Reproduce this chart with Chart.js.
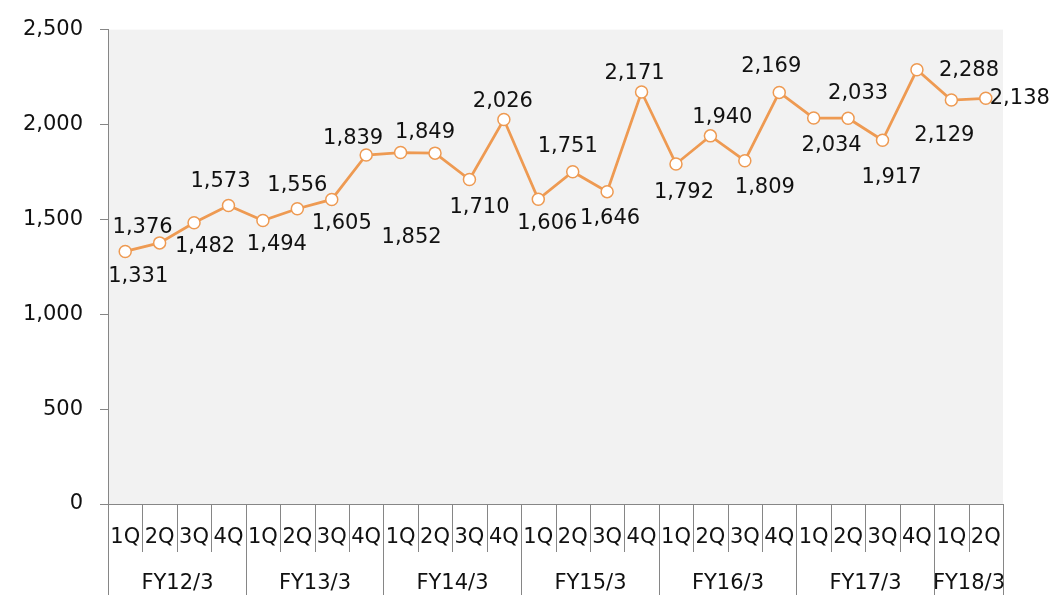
<!DOCTYPE html>
<html>
<head>
<meta charset="utf-8">
<script src="https://cdn.jsdelivr.net/npm/chart.js@4/dist/chart.umd.min.js"></script>
<style>
  html, body { margin: 0; padding: 0; background: #fff; }
  #wrap { width: 1052px; height: 595px; }
</style>
</head>
<body>
<div id="wrap"><canvas id="chart" width="1052" height="595"></canvas></div>
<script>
const quarters = [
  "1Q", "2Q", "3Q", "4Q", "1Q", "2Q", "3Q", "4Q", "1Q", "2Q", "3Q", "4Q", "1Q",
  "2Q", "3Q", "4Q", "1Q", "2Q", "3Q", "4Q", "1Q", "2Q", "3Q", "4Q", "1Q", "2Q",
];
const fiscalYears = ["FY12/3", "FY13/3", "FY14/3", "FY15/3", "FY16/3", "FY17/3", "FY18/3"];
const yearSpans = [4, 4, 4, 4, 4, 4, 2];
const values = [
  1331, 1376, 1482, 1573, 1494, 1556, 1605, 1839, 1852, 1849, 1710, 2026, 1606,
  1751, 1646, 2171, 1792, 1940, 1809, 2169, 2034, 2033, 1917, 2288, 2129, 2138,
];
const yTicks = [0, 500, 1000, 1500, 2000, 2500];

// where each value label sits relative to its point (px)
const labelOffsets = [
  [13, 25], [-17, -15], [11, 24], [-8, -24], [14, 24], [0, -23], [10, 24],
  [-13, -16], [11, 85], [-10, -21], [10, 28], [-1, -18], [9, 24], [-5, -25],
  [3, 27], [-7, -18], [8, 29], [12, -18], [20, 27], [-8, -26], [18, 28],
  [10, -25], [9, 37], [52, 1], [-7, 36], [34, 0],
];

const FONT = '"DejaVu Sans", Verdana, sans-serif';
const AXIS = "#868686";
const ORANGE = "#EE9A52";

const fmt = (v) => v.toLocaleString("en-US");

const plotBg = {
  id: "plotBg",
  beforeDraw(chart) {
    const { ctx, chartArea: a } = chart;
    ctx.save();
    ctx.fillStyle = "#f2f2f2";
    ctx.fillRect(a.left, a.top, a.right - a.left, a.bottom - a.top);
    ctx.restore();
  },
};

const valueLabels = {
  id: "valueLabels",
  afterDatasetsDraw(chart) {
    const { ctx } = chart;
    const meta = chart.getDatasetMeta(0);
    ctx.save();
    ctx.font = "21px " + FONT;
    ctx.fillStyle = "#111";
    ctx.textAlign = "center";
    ctx.textBaseline = "middle";
    meta.data.forEach((pt, i) => {
      const [dx, dy] = labelOffsets[i];
      ctx.fillText(fmt(values[i]), pt.x + dx, pt.y + dy);
    });
    ctx.restore();
  },
};

const twoLevelAxis = {
  id: "twoLevelAxis",
  afterDraw(chart) {
    const { ctx } = chart;
    const xs = chart.scales.x;
    const top = xs.top;
    const bottom = chart.height;
    const step = xs.getPixelForValue(1) - xs.getPixelForValue(0);
    const edge = (i) => Math.round(xs.getPixelForValue(i) - step / 2) + 0.5;

    ctx.save();
    ctx.strokeStyle = AXIS;
    ctx.lineWidth = 1;

    // quarter separators
    for (let i = 1; i < quarters.length; i++) {
      ctx.beginPath();
      ctx.moveTo(edge(i), top);
      ctx.lineTo(edge(i), top + 48);
      ctx.stroke();
    }
    // fiscal year separators
    let start = 0;
    const bounds = [0];
    yearSpans.forEach((n) => { start += n; bounds.push(start); });
    bounds.forEach((b) => {
      ctx.beginPath();
      ctx.moveTo(edge(b), top);
      ctx.lineTo(edge(b), bottom);
      ctx.stroke();
    });

    ctx.font = "21px " + FONT;
    ctx.fillStyle = "#111";
    ctx.textAlign = "center";
    ctx.textBaseline = "middle";
    quarters.forEach((q, i) => {
      ctx.fillText(q, xs.getPixelForValue(i), top + 34);
    });
    fiscalYears.forEach((fy, k) => {
      const mid = (edge(bounds[k]) + edge(bounds[k + 1])) / 2;
      ctx.fillText(fy, mid, top + 80);
    });
    ctx.restore();
  },
};

new Chart(document.getElementById("chart"), {
  type: "line",
  data: {
    labels: quarters,
    datasets: [
      {
        data: values,
        borderColor: ORANGE,
        borderWidth: 2.75,
        tension: 0,
        pointRadius: 6,
        pointBackgroundColor: "#fff",
        pointBorderColor: ORANGE,
        pointBorderWidth: 1.5,
      },
    ],
  },
  options: {
    responsive: false,
    animation: false,
    events: [],
    layout: { padding: { top: 27, right: 49, left: 0, bottom: 0 } },
    plugins: { legend: { display: false }, tooltip: { enabled: false } },
    scales: {
      x: {
        type: "category",
        offset: true,
        ticks: { display: false },
        grid: { display: false },
        border: { display: true, color: AXIS, width: 1 },
        afterFit: (s) => { s.height = 91; },
      },
      y: {
        min: 0,
        max: 2500,
        afterBuildTicks: (s) => { s.ticks = yTicks.map((v) => ({ value: v })); },
        ticks: {
          padding: 17,
          color: "#111",
          font: { family: FONT, size: 21 },
          callback: (v) => fmt(v),
        },
        grid: { drawOnChartArea: false, drawTicks: true, tickLength: 8, color: AXIS },
        border: { display: true, color: AXIS, width: 1 },
        afterFit: (s) => { s.width = 108; },
      },
    },
  },
  plugins: [plotBg, valueLabels, twoLevelAxis],
});
</script>
</body>
</html>
